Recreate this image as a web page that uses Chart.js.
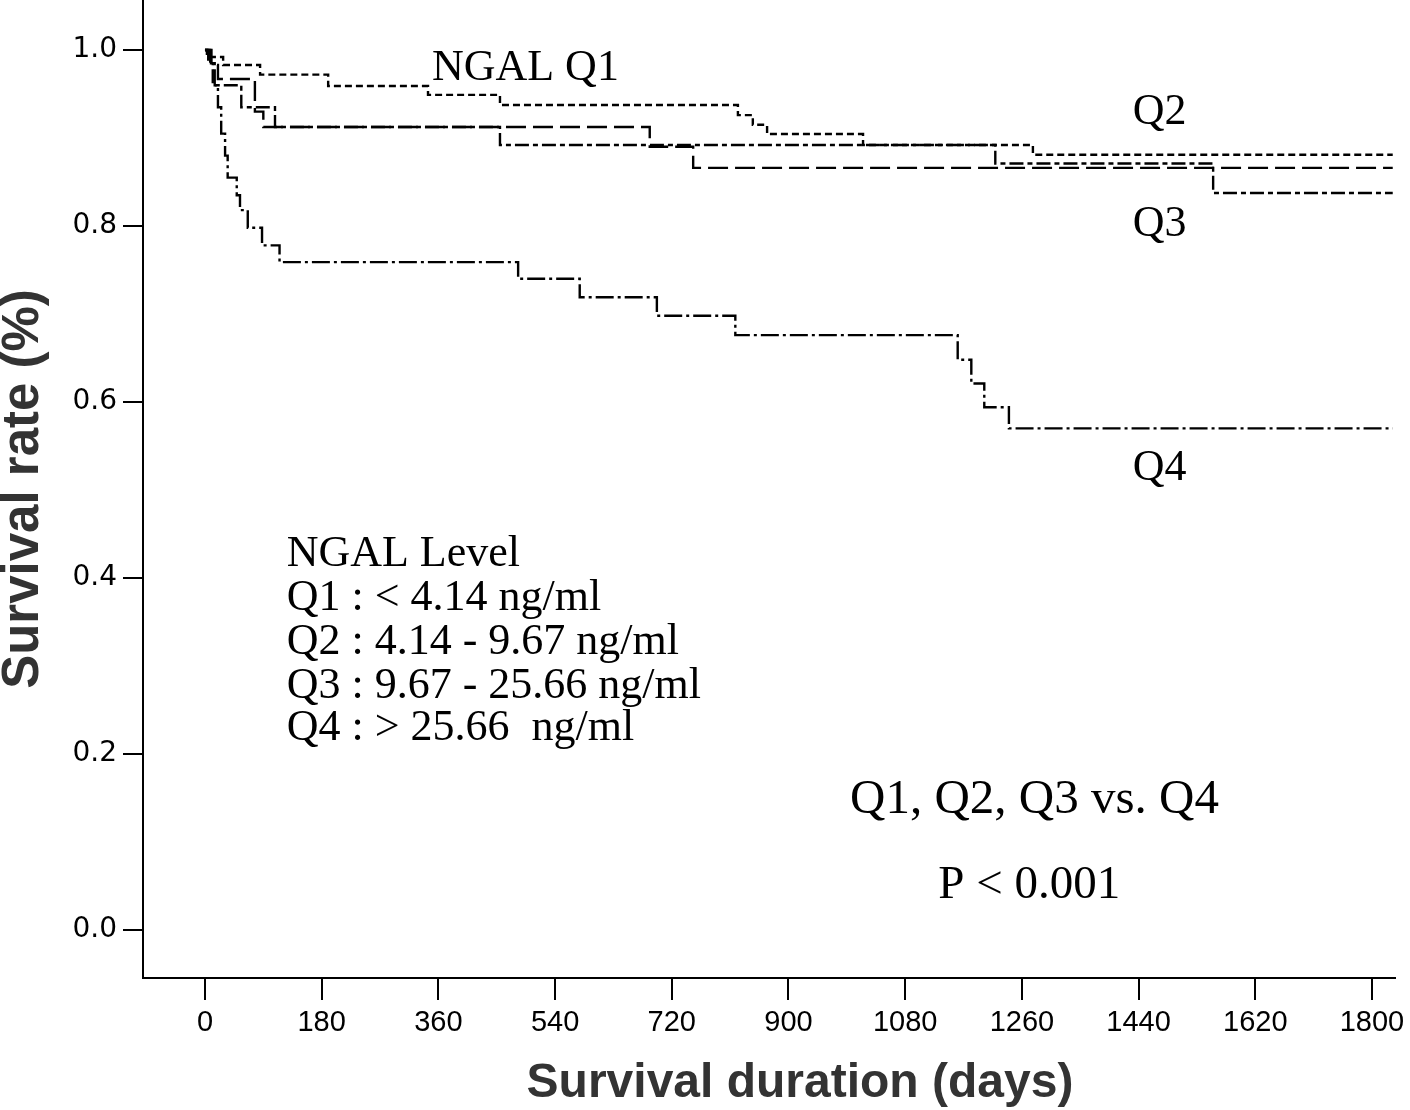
<!DOCTYPE html>
<html>
<head>
<meta charset="utf-8">
<script src="https://cdn.jsdelivr.net/npm/chart.js@4.4.1/dist/chart.umd.min.js"></script>
<style>
  html, body { margin: 0; padding: 0; background: #fff; }
</style>
</head>
<body>
<canvas id="km" width="1410" height="1110"></canvas>
<script>
// tick values
const xTicks = [0, 180, 360, 540, 720, 900, 1080, 1260, 1440, 1620, 1800];
const yTicks = [0.0, 0.2, 0.4, 0.6, 0.8, 1.0];

// Kaplan-Meier steps (day, survival after that day)
const q1Days = [0, 3, 28, 85, 190, 344, 455, 822, 845, 867, 1015, 1277, 1832];
const q1Surv = [1.0, 0.992, 0.983, 0.972, 0.959, 0.949, 0.9375, 0.926, 0.915, 0.9045, 0.892, 0.881, 0.881];

const q2Days = [0, 10, 20, 77, 90, 686, 753, 1832];
const q2Surv = [1.0, 0.983, 0.967, 0.93, 0.9125, 0.89, 0.866, 0.866];

const q3Days = [0, 5, 12, 56, 108, 455, 1219, 1555, 1832];
const q3Surv = [1.0, 0.985, 0.96, 0.935, 0.9125, 0.892, 0.871, 0.8375, 0.8375];

const q4Days = [0, 8, 15, 20, 25, 31, 35, 49, 54, 66, 88, 115, 483, 578, 697, 818, 1161, 1182, 1202, 1240, 1832];
const q4Surv = [1.0, 0.985, 0.96, 0.935, 0.905, 0.88, 0.855, 0.835, 0.818, 0.798, 0.778, 0.759, 0.740, 0.719, 0.698, 0.676, 0.648, 0.621, 0.594, 0.570, 0.570];

// text placed inside the plot (in data units)
const notes = [
  { text: 'NGAL Q1', day: 350, surv: 0.966, size: 44 },
  { text: 'Q2', day: 1431, surv: 0.916, size: 44 },
  { text: 'Q3', day: 1431, surv: 0.789, size: 44 },
  { text: 'Q4', day: 1431, surv: 0.511, size: 44 },
  { text: 'NGAL Level', day: 126, surv: 0.4136, size: 44 },
  { text: 'Q1 : < 4.14 ng/ml', day: 126, surv: 0.3636, size: 44 },
  { text: 'Q2 : 4.14 - 9.67 ng/ml', day: 126, surv: 0.3136, size: 44 },
  { text: 'Q3 : 9.67 - 25.66 ng/ml', day: 126, surv: 0.2636, size: 44 },
  { text: 'Q4 : > 25.66  ng/ml', day: 126, surv: 0.2159, size: 44 },
  { text: 'Q1, Q2, Q3 vs. Q4', day: 995, surv: 0.1330, size: 49 },
  { text: 'P < 0.001', day: 1131, surv: 0.0364, size: 47 }
];

const xTitle = 'Survival duration (days)';
const yTitle = 'Survival rate (%)';

function toPoints(days, surv) {
  return days.map((d, i) => ({ x: d, y: surv[i] }));
}

function curve(label, days, surv, dash) {
  return {
    label: label,
    data: toPoints(days, surv),
    borderColor: '#000',
    borderWidth: 2.4,
    borderDash: dash,
    pointRadius: 0,
    fill: false,
    stepped: 'before'
  };
}

const notesPlugin = {
  id: 'notes',
  afterDraw(chart) {
    const ctx = chart.ctx;
    const xs = chart.scales.x, ys = chart.scales.y;
    ctx.save();
    ctx.fillStyle = '#000';
    ctx.textBaseline = 'alphabetic';
    ctx.textAlign = 'left';
    notes.forEach(n => {
      ctx.font = n.size + 'px "Liberation Serif", "Times New Roman", serif';
      ctx.fillText(n.text, xs.getPixelForValue(n.day), ys.getPixelForValue(n.surv));
    });

    // axis titles
    ctx.fillStyle = '#333';
    ctx.textAlign = 'center';
    ctx.font = 'bold 48px "Liberation Sans", Arial, sans-serif';
    ctx.fillText(xTitle, 800, 1097);
    ctx.translate(38, 489);
    ctx.rotate(-Math.PI / 2);
    ctx.font = 'bold 51px "Liberation Sans", Arial, sans-serif';
    ctx.fillText(yTitle, 0, 0);
    ctx.restore();
  }
};

const ctx = document.getElementById('km').getContext('2d');
const chart = new Chart(ctx, {
  type: 'line',
  data: {
    datasets: [
      curve('Q1', q1Days, q1Surv, [7, 4]),
      curve('Q2', q2Days, q2Surv, [20, 7]),
      curve('Q3', q3Days, q3Surv, [14, 4, 5, 4]),
      curve('Q4', q4Days, q4Surv, [18, 4, 3, 4])
    ]
  },
  options: {
    responsive: false,
    animation: false,
    devicePixelRatio: 1,
    layout: { padding: { left: 0, right: 15, top: 0, bottom: 0 } },
    plugins: {
      legend: { display: false },
      tooltip: { enabled: false }
    },
    scales: {
      x: {
        type: 'linear',
        min: -95.6,
        max: 1835.5,
        afterBuildTicks: s => { s.ticks = xTicks.map(v => ({ value: v })); },
        afterFit: s => { s.height = 132; s.paddingLeft = 0; s.paddingRight = 0; },
        grid: { drawOnChartArea: false, color: '#000', lineWidth: 2, tickLength: 22 },
        border: { color: '#000', width: 2 },
        ticks: {
          color: '#000',
          autoSkip: false,
          maxRotation: 0,
          padding: 6,
          font: { family: 'Liberation Sans', size: 29 },
          callback: v => String(v)
        }
      },
      y: {
        type: 'linear',
        min: -0.0545,
        max: 1.0568,
        afterBuildTicks: s => { s.ticks = yTicks.map(v => ({ value: v })); },
        afterFit: s => { s.width = 143; s.paddingTop = 0; s.paddingBottom = 0; },
        grid: { drawOnChartArea: false, color: '#000', lineWidth: 2, tickLength: 20 },
        border: { color: '#000', width: 2 },
        ticks: {
          color: '#000',
          padding: 6,
          font: { family: 'DejaVu Sans', size: 28 },
          callback: v => v.toFixed(1)
        }
      }
    }
  },
  plugins: [notesPlugin]
});
</script>
</body>
</html>
